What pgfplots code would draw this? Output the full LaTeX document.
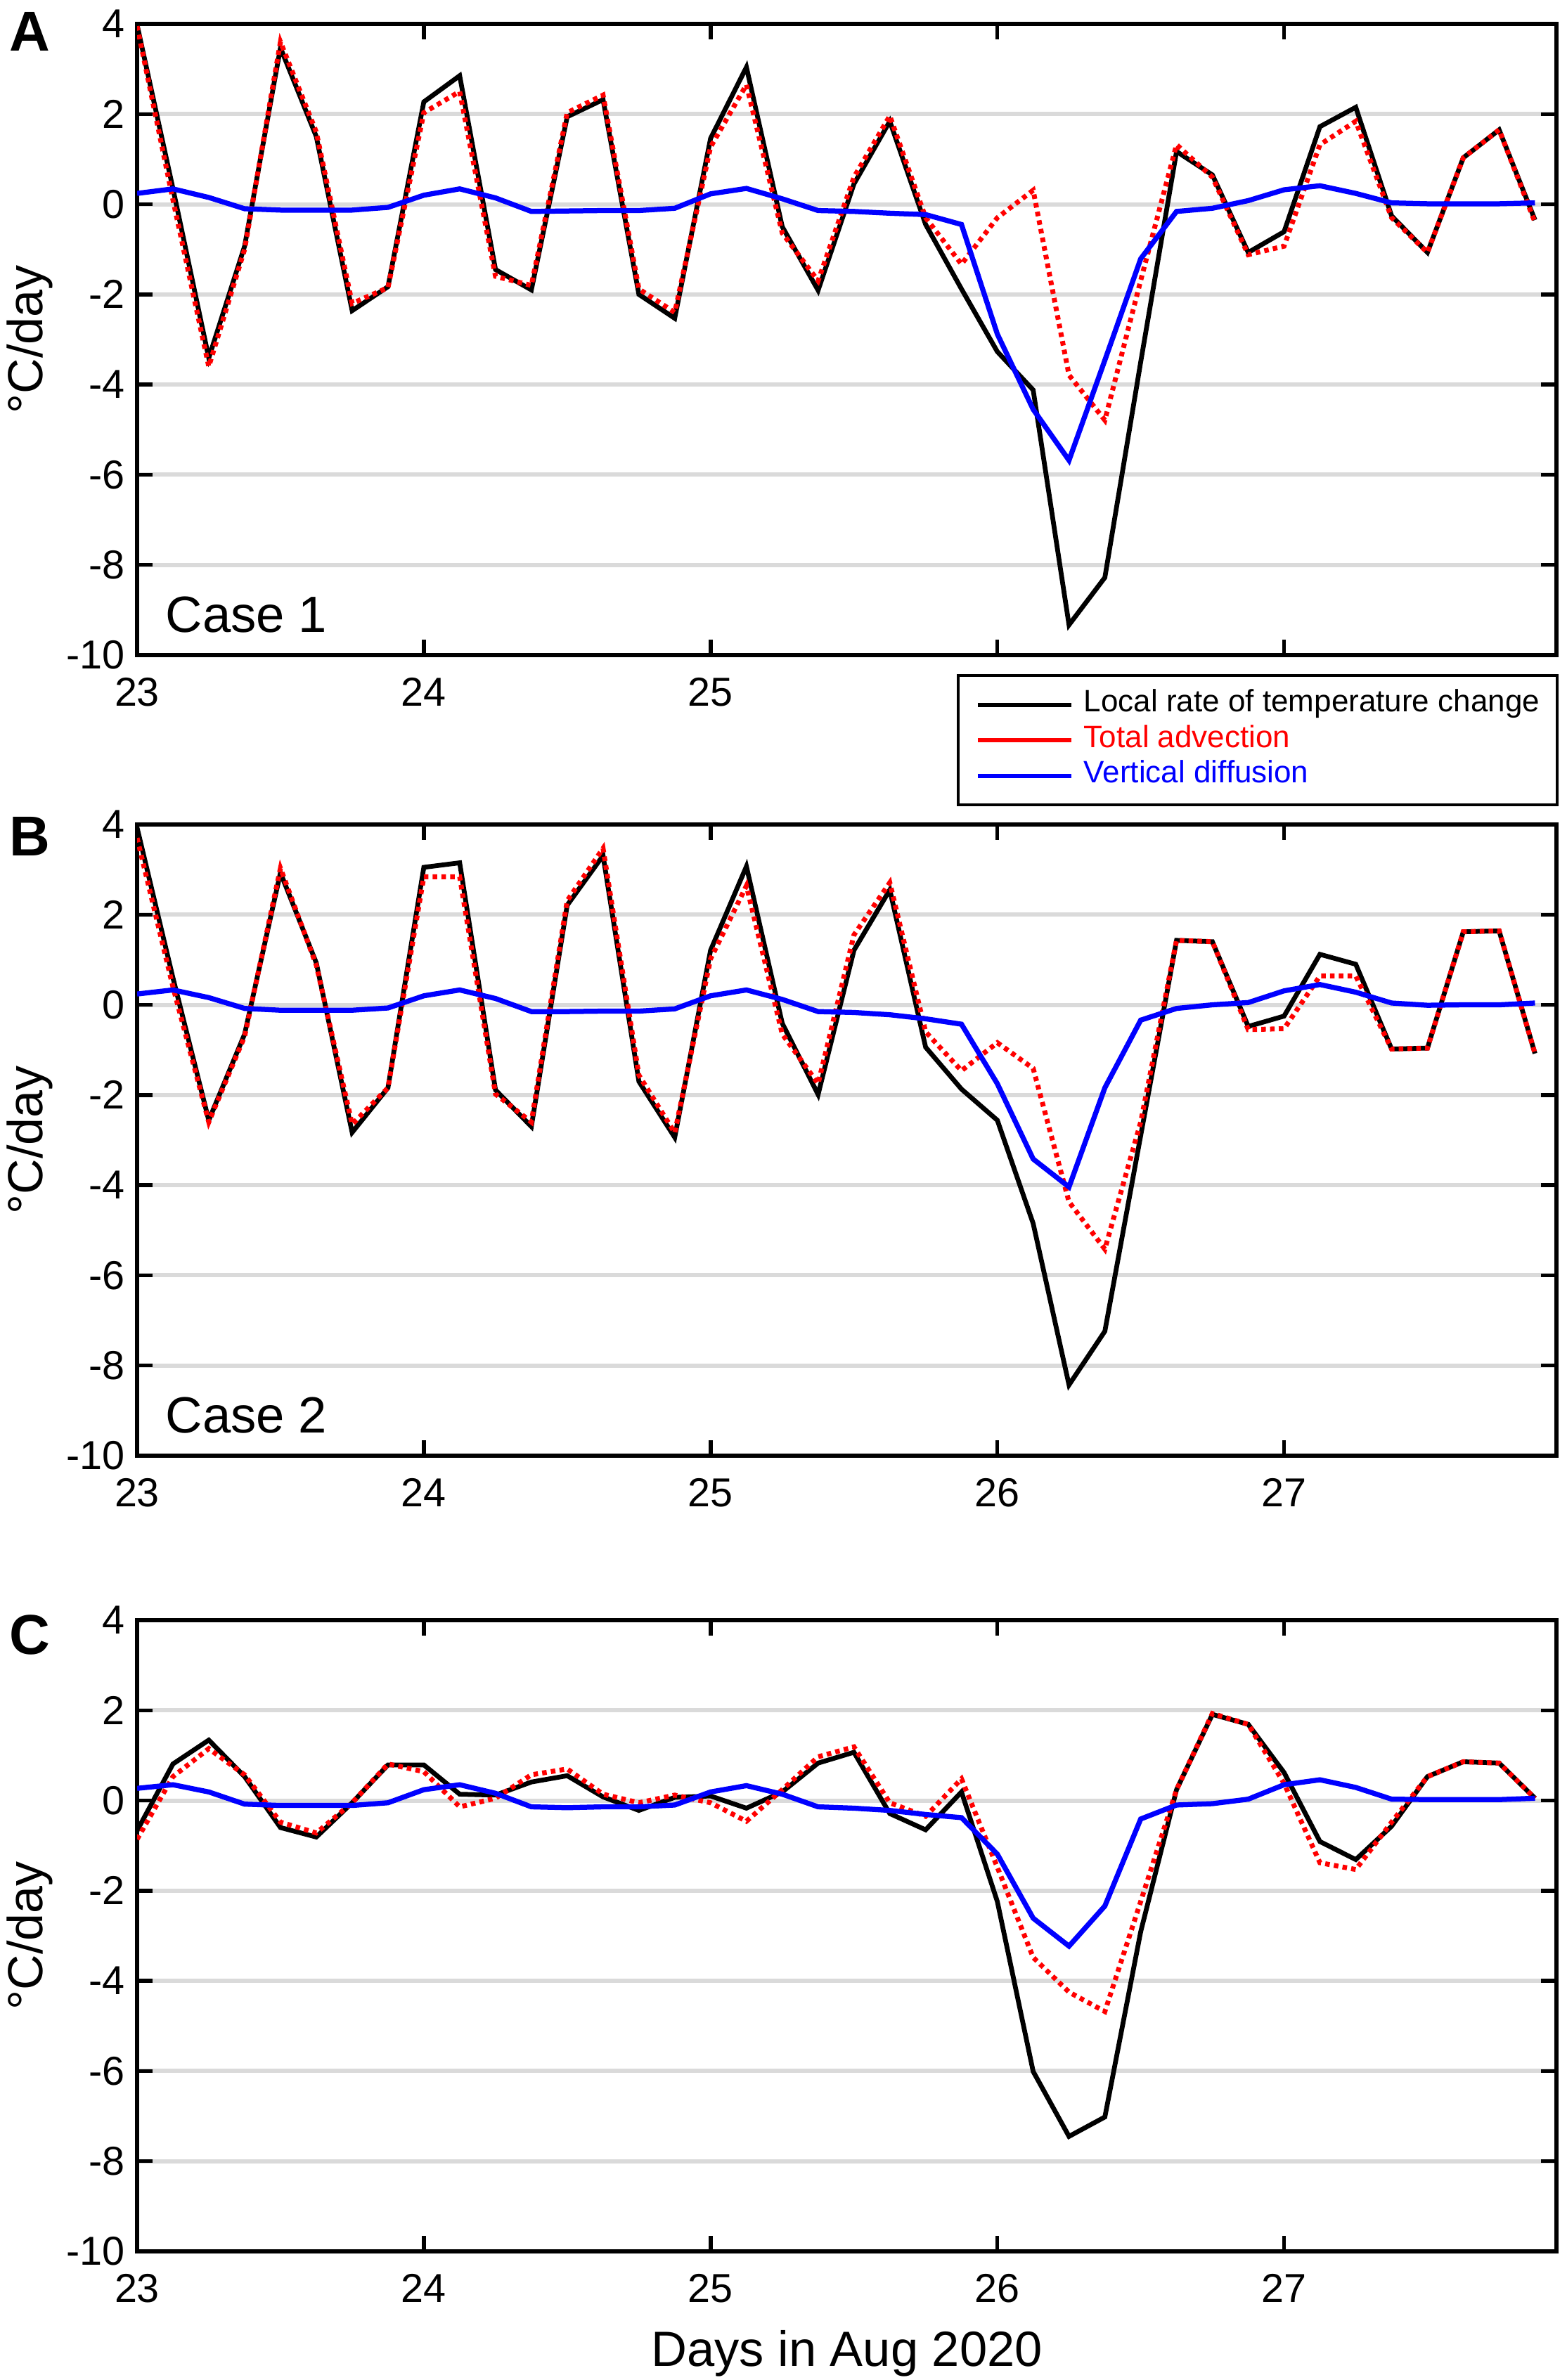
\documentclass[border=0pt]{standalone}
\usepackage{fontspec}
\setmainfont{Liberation Sans}
\usepackage{pgfplots}
\usepackage{pgfplotstable}
\pgfplotsset{compat=1.18}
\definecolor{gridgray}{RGB}{218,218,218}
\definecolor{mred}{RGB}{255,0,0}
\definecolor{mblue}{RGB}{0,0,255}

% columns: day, local rate (black), total advection (red), vertical diffusion (blue)
\pgfplotstableread{
x bl rd bu
23.000 3.98 3.95 0.24
23.125 0.35 0.10 0.34
23.250 -3.41 -3.60 0.15
23.375 -0.93 -1.00 -0.10
23.500 3.47 3.60 -0.13
23.625 1.50 1.60 -0.13
23.750 -2.36 -2.20 -0.13
23.875 -1.83 -1.85 -0.07
24.000 2.27 2.03 0.20
24.125 2.85 2.50 0.34
24.250 -1.45 -1.60 0.14
24.375 -1.90 -1.80 -0.16
24.500 1.94 2.03 -0.15
24.625 2.32 2.42 -0.14
24.750 -2.00 -1.88 -0.14
24.875 -2.53 -2.40 -0.09
25.000 1.46 1.27 0.23
25.125 3.04 2.65 0.35
25.250 -0.50 -0.64 0.12
25.375 -1.91 -1.70 -0.14
25.500 0.45 0.60 -0.16
25.625 1.84 1.96 -0.20
25.750 -0.45 -0.30 -0.23
25.875 -1.88 -1.33 -0.45
26.000 -3.27 -0.30 -2.88
26.125 -4.12 0.31 -4.55
26.250 -9.33 -3.79 -5.68
26.375 -8.28 -4.79 -3.46
26.500 -3.50 -1.69 -1.21
26.625 1.17 1.32 -0.16
26.750 0.65 0.60 -0.09
26.875 -1.07 -1.12 0.08
27.000 -0.61 -0.93 0.32
27.125 1.72 1.32 0.41
27.250 2.15 1.84 0.24
27.375 -0.26 -0.30 0.03
27.500 -1.07 -1.07 0.01
27.625 1.03 1.03 0.01
27.750 1.65 1.65 0.01
27.875 -0.35 -0.40 0.03
}\caseA

\pgfplotstableread{
x bl rd bu
23.000 3.93 3.70 0.24
23.125 0.60 0.40 0.33
23.250 -2.56 -2.60 0.16
23.375 -0.65 -0.70 -0.08
23.500 2.93 3.03 -0.12
23.625 0.93 0.88 -0.12
23.750 -2.83 -2.65 -0.12
23.875 -1.84 -1.84 -0.07
24.000 3.05 2.84 0.20
24.125 3.15 2.84 0.33
24.250 -1.89 -1.98 0.14
24.375 -2.70 -2.60 -0.15
24.500 2.21 2.31 -0.15
24.625 3.31 3.47 -0.14
24.750 -1.70 -1.56 -0.14
24.875 -2.94 -2.84 -0.09
25.000 1.21 1.02 0.20
25.125 3.07 2.64 0.33
25.250 -0.41 -0.65 0.12
25.375 -1.99 -1.75 -0.15
25.500 1.21 1.55 -0.17
25.625 2.55 2.71 -0.22
25.750 -0.94 -0.60 -0.31
25.875 -1.87 -1.46 -0.43
26.000 -2.56 -0.84 -1.75
26.125 -4.85 -1.41 -3.42
26.250 -8.43 -4.37 -4.04
26.375 -7.24 -5.42 -1.84
26.500 -2.90 -2.60 -0.34
26.625 1.43 1.43 -0.08
26.750 1.40 1.40 0.00
26.875 -0.48 -0.55 0.05
27.000 -0.25 -0.53 0.31
27.125 1.12 0.64 0.45
27.250 0.90 0.64 0.28
27.375 -0.98 -0.98 0.04
27.500 -0.96 -0.96 -0.01
27.625 1.62 1.62 0.00
27.750 1.64 1.64 0.00
27.875 -1.08 -1.08 0.04
}\caseB

\pgfplotstableread{
x bl rd bu
23.000 -0.67 -0.86 0.27
23.125 0.81 0.53 0.35
23.250 1.34 1.15 0.19
23.375 0.53 0.57 -0.08
23.500 -0.60 -0.48 -0.11
23.625 -0.81 -0.72 -0.11
23.750 -0.05 -0.05 -0.11
23.875 0.79 0.81 -0.05
24.000 0.79 0.64 0.24
24.125 0.14 -0.14 0.35
24.250 0.12 0.05 0.16
24.375 0.41 0.57 -0.14
24.500 0.55 0.70 -0.16
24.625 0.08 0.14 -0.14
24.750 -0.22 -0.05 -0.14
24.875 0.07 0.12 -0.10
25.000 0.10 -0.05 0.19
25.125 -0.17 -0.46 0.33
25.250 0.19 0.24 0.14
25.375 0.83 0.97 -0.14
25.500 1.07 1.19 -0.17
25.625 -0.29 -0.05 -0.22
25.750 -0.65 -0.35 -0.31
25.875 0.19 0.48 -0.38
26.000 -2.24 -1.48 -1.19
26.125 -6.01 -3.48 -2.61
26.250 -7.45 -4.25 -3.23
26.375 -7.02 -4.68 -2.34
26.500 -2.91 -2.24 -0.41
26.625 0.24 0.24 -0.10
26.750 1.91 1.93 -0.07
26.875 1.69 1.69 0.03
27.000 0.62 0.38 0.35
27.125 -0.91 -1.38 0.46
27.250 -1.31 -1.53 0.29
27.375 -0.57 -0.48 0.03
27.500 0.53 0.53 0.02
27.625 0.86 0.86 0.02
27.750 0.83 0.83 0.02
27.875 0.05 0.05 0.05
}\caseC

\tikzset{casefont/.style={font=\fontsize{14.5}{16}\selectfont}}

\pgfplotsset{
  panel/.style={
    scale only axis,
    width=403.8pt, height=179.6pt,
    anchor=south west,
    xmin=23, xmax=27.95, ymin=-10, ymax=4,
    xtick={23,24,25,26,27}, ytick={-10,-8,-6,-4,-2,0,2,4},
    tick align=inside,
    major tick length=4.4pt,
    tick style={line width=1.1pt, black},
    axis line style={line width=1.2pt, black},
    ymajorgrids,
    major grid style={line width=1.2pt, color=gridgray},
    tick label style={font=\fontsize{11.5}{13}\selectfont},
    xticklabel style={yshift=-3pt},
    /pgf/number format/assume math mode=true,
    ylabel={°C/day},
    ylabel style={at={(axis description cs:-0.0755,0.5)}, anchor=center,
                  font=\fontsize{14}{16}\selectfont},
  },
  blk/.style={black, line width=1.35pt, solid, no markers},
  rdd/.style={mred, line width=1.4pt, dash pattern=on 1.3pt off 1.2pt, no markers},
  blu/.style={mblue, line width=1.45pt, solid, no markers},
}

\begin{document}
\begin{tikzpicture}
\useasboundingbox (0,0) rectangle (445.6pt,677.2pt);

% Panel A
\begin{axis}[panel, at={(39pt,490.8pt)},
  xticklabels={23,24,25,{},{}},
  legend image code/.code={\draw[#1] (0pt,0pt) -- (26.6pt,0pt);},
  legend style={at={(rel axis cs:1.0015,0)}, anchor=north east, yshift=-5.4pt,
    draw=black, line width=0.8pt, fill=white,
    font=\fontsize{8.8}{10.1}\selectfont,
    inner xsep=5pt, inner ysep=3.3pt,
    row sep=0pt, column sep=3pt,
    nodes={inner sep=0pt, text height=7.1pt, text depth=3.0pt}},
  legend cell align=left]
\addplot[blk, forget plot] table[x=x, y=bl] {\caseA};
\addplot[rdd, forget plot] table[x=x, y=rd] {\caseA};
\addplot[blu, forget plot] table[x=x, y=bu] {\caseA};
\addlegendimage{black, line width=1.2pt, solid}
\addlegendentry{Local rate of temperature change}
\addlegendimage{mred, line width=1.2pt, solid}
\addlegendentry{\textcolor{mred}{Total advection}}
\addlegendimage{mblue, line width=1.2pt, solid}
\addlegendentry{\textcolor{mblue}{Vertical diffusion}}
\node[casefont, anchor=base west] at (rel axis cs:0,0) [xshift=4.6pt, yshift=6.4pt] {Case 1};
\end{axis}

% Panel B
\begin{axis}[panel, at={(39pt,263.0pt)}]
\addplot[blk] table[x=x, y=bl] {\caseB};
\addplot[rdd] table[x=x, y=rd] {\caseB};
\addplot[blu] table[x=x, y=bu] {\caseB};
\node[casefont, anchor=base west] at (rel axis cs:0,0) [xshift=4.6pt, yshift=6.4pt] {Case 2};
\end{axis}

% Panel C
\begin{axis}[panel, at={(39pt,36.6pt)},
  xlabel={Days in Aug 2020},
  xlabel style={at={(axis description cs:0.5,-0.1615)}, anchor=center,
                font=\fontsize{14.1}{16}\selectfont}]
\addplot[blk] table[x=x, y=bl] {\caseC};
\addplot[rdd] table[x=x, y=rd] {\caseC};
\addplot[blu] table[x=x, y=bu] {\caseC};
\end{axis}

\node[font=\bfseries\fontsize{16}{18}\selectfont] at (8.4pt,668.2pt) {A};
\node[font=\bfseries\fontsize{16}{18}\selectfont] at (8.4pt,439.2pt) {B};
\node[font=\bfseries\fontsize{16}{18}\selectfont] at (8.4pt,212.1pt) {C};
\end{tikzpicture}
\end{document}
